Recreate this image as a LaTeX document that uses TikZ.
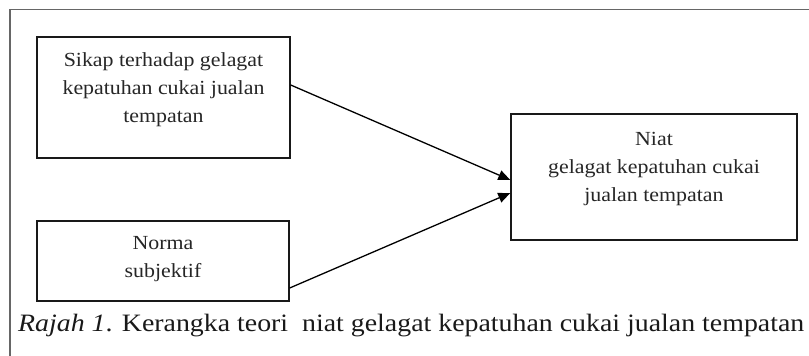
\documentclass[tikz,border=0pt]{standalone}
\usepackage{fontspec}
\setmainfont{Liberation Serif}
\newfontfamily\boxfont[FakeStretch=1.095]{Liberation Serif}
\usetikzlibrary{arrows.meta}

\tikzset{
  frameline/.style={draw=black!60, line width=1.1pt},
  boxnode/.style={draw=black!90, line width=1.4pt, inner sep=0pt},
  boxtext/.style={align=center, inner sep=0pt, font=\boxfont\fontsize{20}{28}\selectfont, text=black!85},
  link/.style={draw=black, line width=1.3pt, -{Triangle[length=12pt,width=10pt]}},
}

\begin{document}
\begin{tikzpicture}[x=1pt,y=1pt]
  \useasboundingbox (0,0) rectangle (809,356);

  % outer open frame (left and top sides)
  \draw[frameline] (10,0) -- (10,346.5) -- (809,346.5);

  % boxes
  \node[boxnode, minimum width=253pt, minimum height=121pt] (b1) at (163.5,258.5) {};
  \node[boxnode, minimum width=252pt, minimum height=80pt]  (b2) at (163,95) {};
  \node[boxnode, minimum width=286pt, minimum height=126pt] (b3) at (654,179) {};

  % box labels
  \node[boxtext] (t1) at ([yshift=7.5pt]b1.center) {Sikap terhadap gelagat\\kepatuhan cukai jualan\\tempatan};
  \node[boxtext] (t2) at ([yshift=1.5pt]b2.center) {Norma\\subjektif};
  \node[boxtext] (t3) at ([yshift=8pt]b3.center) {Niat\\gelagat kepatuhan cukai\\jualan tempatan};

  % connectors
  \draw[link] ([yshift=12.5pt]b1.east) -- ([yshift=-3pt]b3.west);
  \draw[link] ([yshift=-27pt]b2.east) -- ([yshift=-16pt]b3.west);

  % caption, widened to its full line
  \node[anchor=west, inner sep=0pt, font=\fontsize{25}{28}\selectfont, text=black!90] (cap) at (18,30)
    {\resizebox{786pt}{\height}{\textit{Rajah 1}. Kerangka teori\ \ niat gelagat kepatuhan cukai jualan tempatan}};
\end{tikzpicture}
\end{document}
